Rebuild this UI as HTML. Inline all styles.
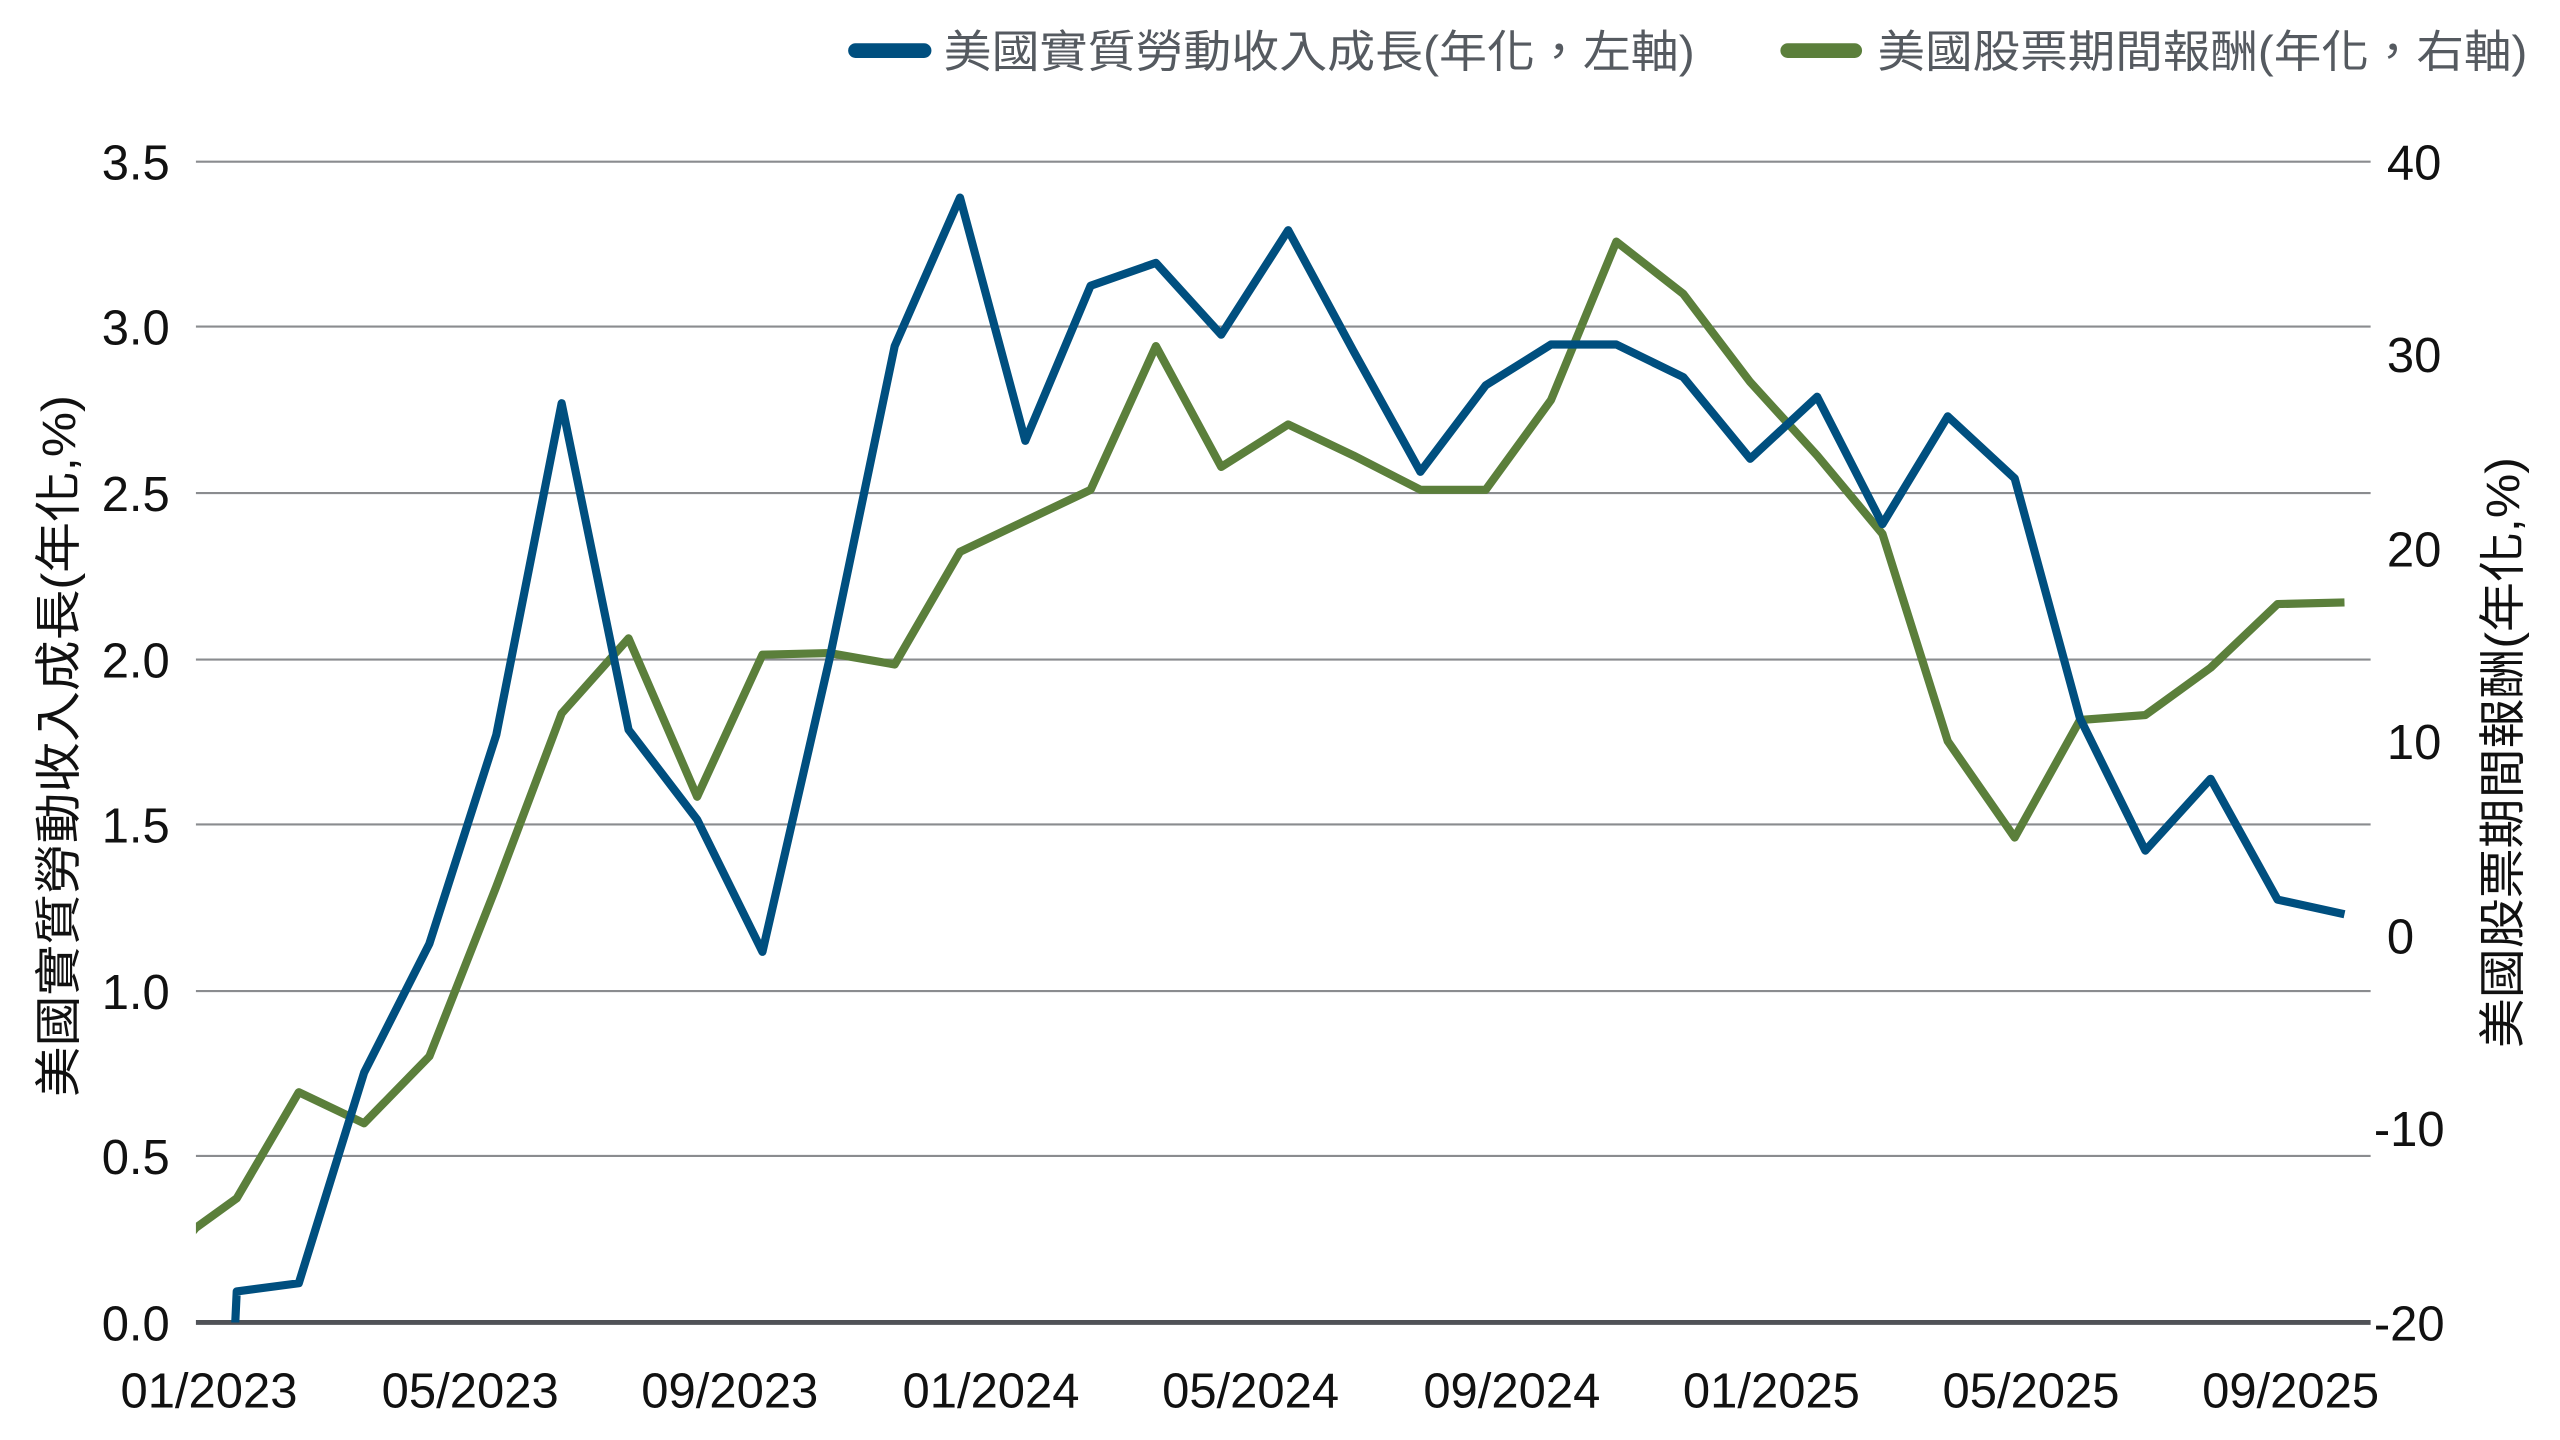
<!DOCTYPE html>
<html><head><meta charset="utf-8"><style>
html,body{margin:0;padding:0;background:#fff;width:2560px;height:1440px;overflow:hidden;}
svg{display:block;}
text{font-family:"Liberation Sans","Noto Sans CJK TC",sans-serif;}
</style></head><body>
<svg width="2560" height="1440" viewBox="0 0 1568 882" xmlns="http://www.w3.org/2000/svg">
<defs><clipPath id="c"><rect x="120" y="60" width="1332" height="750"/></clipPath></defs>
<g stroke="#8a8c8f" stroke-width="1.3">
<line x1="120" x2="1452" y1="99" y2="99"/>
<line x1="120" x2="1452" y1="200" y2="200"/>
<line x1="120" x2="1452" y1="302" y2="302"/>
<line x1="120" x2="1452" y1="404" y2="404"/>
<line x1="120" x2="1452" y1="505" y2="505"/>
<line x1="120" x2="1452" y1="607" y2="607"/>
<line x1="120" x2="1452" y1="708" y2="708"/>
</g>
<line x1="120" x2="1452" y1="810" y2="810" stroke="#505257" stroke-width="3"/>
<g font-size="30" fill="#111" text-anchor="end">
<text x="104" y="110">3.5</text><text x="104" y="211">3.0</text><text x="104" y="313">2.5</text>
<text x="104" y="415">2.0</text><text x="104" y="516">1.5</text><text x="104" y="618">1.0</text>
<text x="104" y="719">0.5</text><text x="104" y="821">0.0</text>
</g>
<g font-size="30" fill="#111">
<text x="1462" y="110">40</text><text x="1462" y="228">30</text><text x="1462" y="347">20</text>
<text x="1462" y="465">10</text><text x="1462" y="584">0</text><text x="1454" y="702">-10</text>
<text x="1454" y="821">-20</text>
</g>
<g font-size="30" fill="#111" text-anchor="middle">
<text x="128" y="862">01/2023</text><text x="288" y="862">05/2023</text><text x="447" y="862">09/2023</text>
<text x="607" y="862">01/2024</text><text x="766" y="862">05/2024</text><text x="926" y="862">09/2024</text>
<text x="1085" y="862">01/2025</text><text x="1244" y="862">05/2025</text><text x="1403" y="862">09/2025</text>
</g>
<text transform="translate(46,457) rotate(-90)" font-size="29" fill="#111" text-anchor="middle" textLength="430" lengthAdjust="spacingAndGlyphs">美國實質勞動收入成長(年化,%)</text>
<text transform="translate(1543,461) rotate(-90)" font-size="29" fill="#111" text-anchor="middle" textLength="362" lengthAdjust="spacingAndGlyphs">美國股票期間報酬(年化,%)</text>
<g clip-path="url(#c)" fill="none" stroke-width="5" stroke-linejoin="round">
<polyline stroke="#5b7f3b" points="105,770 120,752 145,734 183,669 223,688 263,647 304,543 344,437 385,391 427,488 467,401 508,400 548,407 588,338 628,319 668,300 708,212 748,286 789,260 829,279 870,300 910,300 950,245 990,148 1031,180 1072,234 1113,279 1153,327 1193,454 1234,513 1274,441 1314,438 1354,409 1395,370 1436,369"/>
<polyline stroke="#004f7f" points="137,960 145,791 183,786 223,657 263,578 304,450 344,247 385,447 427,502 467,583 508,404 548,212 588,121 628,270 668,175 708,161 748,205 789,141 829,215 870,289 910,236 950,211 990,211 1031,231 1072,281 1113,243 1153,321 1193,255 1234,293 1274,440 1314,521 1354,477 1395,551 1436,560"/>
</g>
<line x1="524" x2="566" y1="31" y2="31" stroke="#004f7f" stroke-width="9" stroke-linecap="round"/>
<text x="578" y="41" font-size="27" fill="#555a60" textLength="460" lengthAdjust="spacingAndGlyphs">美國實質勞動收入成長(年化，左軸)</text>
<line x1="1095" x2="1136" y1="31" y2="31" stroke="#5b7f3b" stroke-width="9" stroke-linecap="round"/>
<text x="1150" y="41" font-size="27" fill="#555a60" textLength="398" lengthAdjust="spacingAndGlyphs">美國股票期間報酬(年化，右軸)</text>
</svg>
</body></html>
